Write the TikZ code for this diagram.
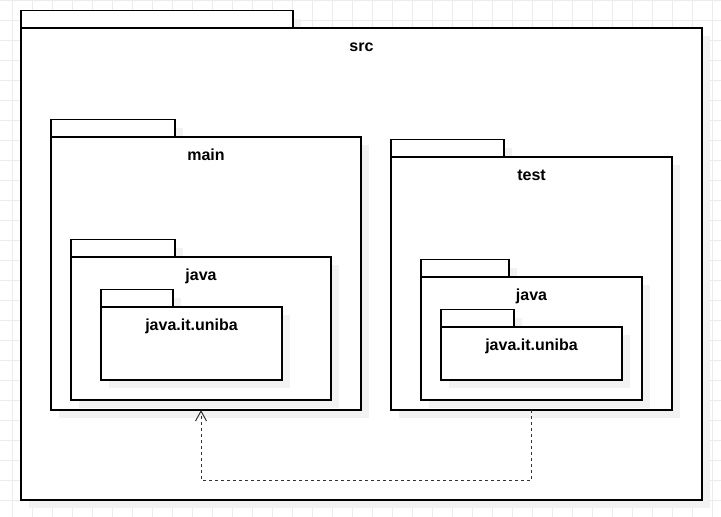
\documentclass[tikz,border=0pt]{standalone}
\usepackage{fontspec}
\setmainfont{Liberation Sans}
\usetikzlibrary{shadows,calc,arrows.meta}

\definecolor{gridgray}{RGB}{236,236,236}
\definecolor{shadowgray}{RGB}{242,242,242}
\definecolor{depgray}{RGB}{51,51,51}

\tikzset{
  pkgshape/.style={draw=black, fill=white, line width=1.2pt, inner sep=0pt, outer sep=0pt,
    drop shadow={shadow xshift=8pt, shadow yshift=-8pt, fill=shadowgray, opacity=1}},
  pkgtab/.style={pkgshape, anchor=south west, minimum height=17.5pt},
  pkgbody/.style={pkgshape, anchor=north west},
  pkglabel/.style={font=\bfseries\fontsize{16}{19}\selectfont, anchor=base, inner sep=0pt},
  gridline/.style={draw=gridgray, line width=1pt},
  dep/.style={draw=depgray, line width=1pt, dash pattern=on 3pt off 3pt,
    -{Straight Barb[length=10pt,width=11pt,line width=1pt]}},
}

% #1 name, #2 x, #3 top of body, #4 body width, #5 body height, #6 tab width, #7 label
\newcommand{\umlpackage}[7]{%
  \node[pkgtab, minimum width=#6pt] (#1-tab) at (#2,#3) {};
  \node[pkgbody, minimum width=#4pt, minimum height=#5pt] (#1) at (#2,#3) {};
  \node[pkglabel] (#1-label) at ($(#1.north)+(0,23)$) {#7};
}

\begin{document}
\begin{tikzpicture}[x=1pt,y=-1pt]
  \useasboundingbox (0,0) rectangle (721,517);

  % background grid
  \foreach \gx in {12,32,...,712} \draw[gridline] (\gx,0) -- (\gx,517);
  \foreach \gy in {0,20,...,500} \draw[gridline] (0,\gy) -- (721,\gy);

  % packages
  \umlpackage{src}{21}{28}{681}{472}{272}{src}
  \umlpackage{main}{51}{137}{310}{273}{124}{main}
  \umlpackage{mainjava}{71}{257}{260}{143}{104}{java}
  \umlpackage{mainuniba}{101}{307}{181}{73}{72}{java.it.uniba}
  \umlpackage{test}{391}{157}{281}{253}{113}{test}
  \umlpackage{testjava}{421}{277}{221}{123}{88}{java}
  \umlpackage{testuniba}{441}{327}{181}{53}{73}{java.it.uniba}

  % dependency test -> main
  \draw[dep] (test.south) -- ++(0,70) -| ([xshift=-5pt]main.south);
\end{tikzpicture}
\end{document}
